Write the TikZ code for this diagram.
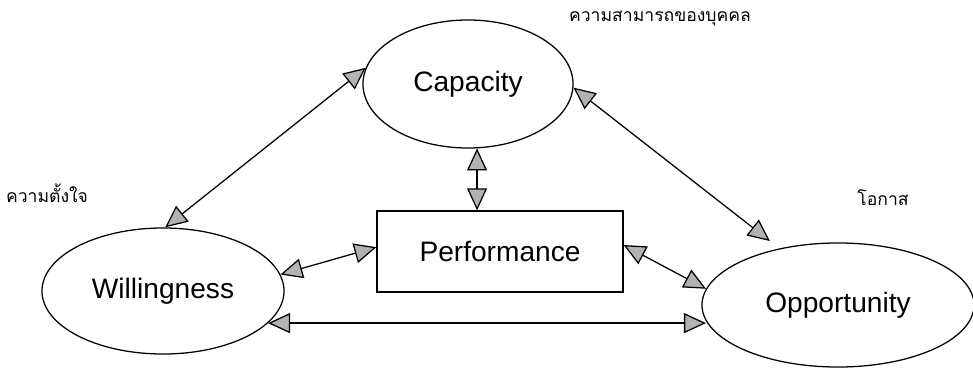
\documentclass[tikz,border=0pt]{standalone}
\usepackage{fontspec}
\setsansfont{Liberation Sans}
\newfontfamily\thaifont[Script=Thai]{Loma}
\usetikzlibrary{shapes.geometric,arrows.meta}

\tikzset{
  factor/.style={draw,ellipse,inner sep=0pt,line width=0.9pt,font=\sffamily\fontsize{20}{24}\selectfont},
  perfbox/.style={draw,rectangle,inner sep=0pt,line width=0.9pt,font=\sffamily\fontsize{20}{24}\selectfont},
  link/.style={line width=0.9pt,{Triangle[fill=gray!60,length=0.55cm,width=0.5cm]}-{Triangle[fill=gray!60,length=0.55cm,width=0.5cm]}},
  thai/.style={font=\thaifont\fontsize{12.5}{14}\selectfont}
}

\begin{document}
\begin{tikzpicture}[x=0.025cm,y=-0.025cm]
        \useasboundingbox (0,0) rectangle (973,369);
        % the three factors and the box
        \node[factor,minimum width=5.25cm,minimum height=3.2cm] (cap) at (468,84) {Capacity};
        \node[factor,minimum width=6.05cm,minimum height=3.15cm] (will) at (163,291) {Willingness};
        \node[factor,minimum width=6.8cm,minimum height=3.1cm] (opp) at (838,305) {Opportunity};
        \node[perfbox,minimum width=6.15cm,minimum height=2.025cm] (perf) at (500,251.5) {Performance};
        % thai notes
        \node[thai] (capnote) at (660,19) {ความสามารถของบุคคล};
        \node[thai] (willnote) at (47,193) {ความตั้งใจ};
        \node[thai] (oppnote) at (883,198) {โอกาส};
        % links
        \draw[link] (cap.171) -- (will.88);
        \draw[link,shorten >=0.3cm] (cap.358) -- (opp.136);
        \draw[link] (cap.278) -- (cap.278 |- perf.north);
        \draw[link] (perf.178) -- (will.8);
        \draw[link] (perf.3) -- (opp.173.6);
        \draw[link] (will.343.6) -- (will.343.6 -| opp.187.4);
      \end{tikzpicture}
\end{document}
